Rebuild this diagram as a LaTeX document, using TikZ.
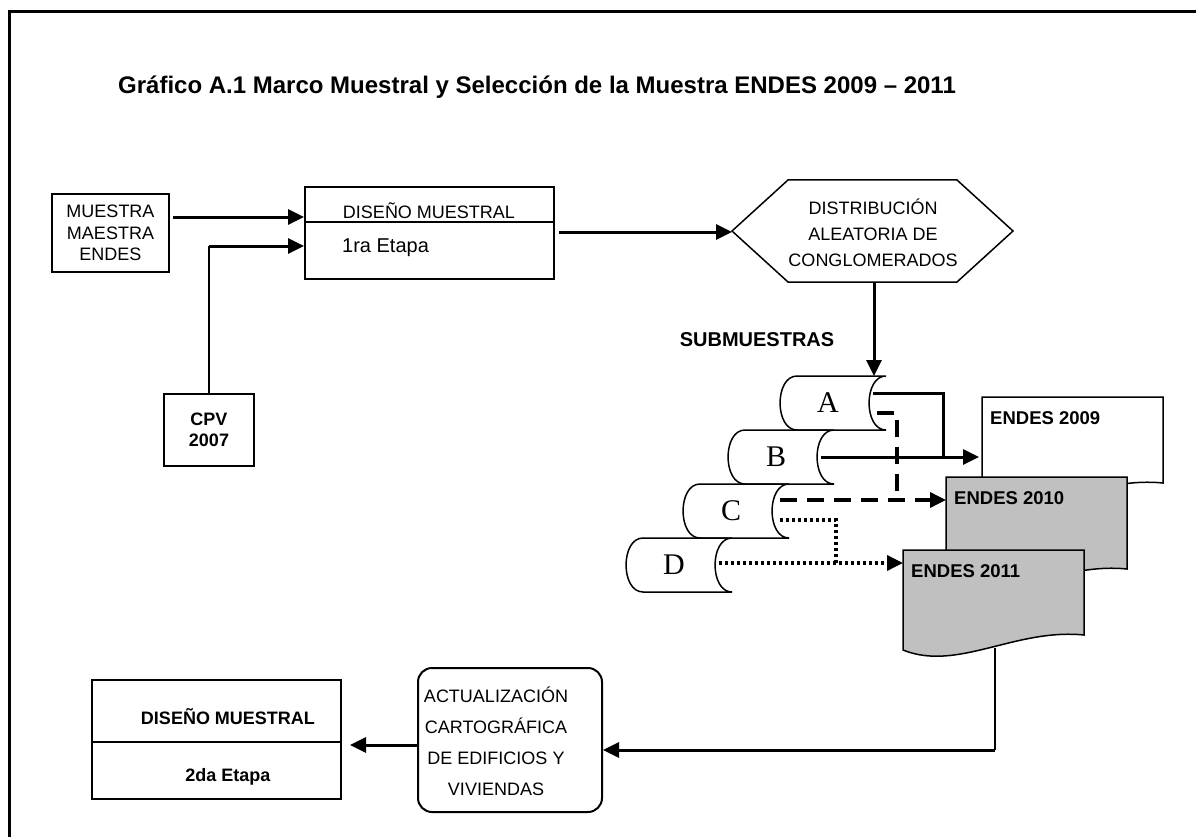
\documentclass[tikz,border=0pt]{standalone}
\usepackage{fontspec}
\setmainfont{Liberation Sans}
\newfontfamily\lserif{Liberation Serif}
\usetikzlibrary{arrows.meta,calc}
\definecolor{docgray}{RGB}{192,192,192}
\newcommand\myscroll[4]{%
  \draw[shapeline, fill=white] (#1+17,#2) -- (#1+106,#2)
     .. controls (#1+83.4,#2) and (#1+83.4,#2+54) .. (#1+106,#2+54)
     -- (#1+17,#2+54)
     .. controls (#1-5.6,#2+54) and (#1-5.6,#2) .. (#1+17,#2) -- cycle;
  \node[font=\lserif\fontsize{30}{34}\selectfont, inner sep=0pt] (#4) at (#1+48,#2+27) {#3};
  \coordinate (#4T) at (#1,#2);
  \coordinate (#4R) at (#1+93,#2+27);
}
\newcommand\mydoc[6]{%
  \draw[shapeline, fill=#4] (#1,#2) -- (#1+181,#2) -- (#1+181,#2+#3-15)
     .. controls (#1+112,#2+#3-22) and (#1+54,#2+#3+22) .. (#1,#2+#3) -- cycle;
  \node[anchor=west, inner sep=0pt, font=\bfseries\fontsize{18.5}{21}\selectfont] (#6) at (#1+8,#2+21) {#5};
  \coordinate (#6L) at (#1,#2);
}
\begin{document}
\begin{tikzpicture}[x=1pt,y=-1pt,
  box/.style={draw, line width=2pt, fill=white, inner sep=0pt},
  conn/.style={line width=3pt},
  tip/.style={-{Triangle[length=16pt,width=15pt]}},
  arr/.style={conn, tip},
  thinc/.style={line width=2pt},
  dashc/.style={line width=3.5pt, dash pattern=on 17pt off 10pt},
  dotc/.style={line width=3.5pt, dash pattern=on 3pt off 3pt},
  shapeline/.style={line width=1.5pt},
  f18/.style={font=\fontsize{18}{21.5}\selectfont, inner sep=0pt},
  b18/.style={font=\bfseries\fontsize{18}{21}\selectfont, inner sep=0pt}]
\useasboundingbox (0,0) rectangle (1196,837);
\fill[white] (0,0) rectangle (1196,837);
% frame
\draw[line width=3pt] (9,837) -- (9,12) -- (1196,12);
% title
\node[anchor=west, inner sep=0pt, font=\bfseries\fontsize{24}{28}\selectfont] (title) at (118,87)
  {Gráfico A.1 Marco Muestral y Selección de la Muestra ENDES 2009 – 2011};
% top row
\node[box, minimum width=117pt, minimum height=78pt, f18, align=center] (mme) at (110.5,233) {MUESTRA\\MAESTRA\\ENDES};
\node[box, minimum width=249pt, minimum height=92pt] (d1) at (429.5,233) {};
\draw[line width=2pt] ([yshift=11pt]d1.west) -- ([yshift=11pt]d1.east);
\node[f18] (d1a) at (429,211) {DISEÑO MUESTRAL};
\node[font=\fontsize{20}{24}\selectfont, inner sep=0pt, anchor=west] (d1b) at (342,248) {1ra Etapa};
\node[box, minimum width=90pt, minimum height=72pt, align=center, b18] (cpv) at (209,430) {CPV\\2007};
% hexagon
\draw[shapeline, fill=white] (732,231) -- (788,180) -- (957,180) -- (1013,231) -- (957,282) -- (788,282) -- cycle;
\node[align=center, font=\fontsize{18}{26}\selectfont, inner sep=0pt] (hex) at (873,233) {DISTRIBUCIÓN\\ALEATORIA DE\\CONGLOMERADOS};
\coordinate (hexW) at (732,231);
\coordinate (hexS) at (874,282);
% connectors top
\coordinate (p1) at ([yshift=16pt]mme.east);
\draw[arr] ([xshift=3pt]p1) -- (p1 -| d1.west);
\coordinate (p2) at ([yshift=-13pt]d1.west);
\draw[thinc] (cpv.north) -- (cpv.north |- p2);
\draw[arr] (cpv.north |- p2) -- (p2);
\coordinate (p3) at ([yshift=1pt]d1.east);
\draw[arr] ([xshift=4pt]p3) -- (p3 -| hexW);
% submuestras
\node[font=\bfseries\fontsize{20}{24}\selectfont, inner sep=0pt] (sub) at (757,340) {SUBMUESTRAS};
% documents
\mydoc{982}{397}{101}{white}{ENDES 2009}{e09}
\mydoc{946}{477}{107}{docgray}{ENDES 2010}{e10}
\mydoc{903}{550}{100}{docgray}{ENDES 2011}{e11}
\coordinate (e11B) at (995,648);
% scrolls
\myscroll{780}{376}{A}{sA}
\myscroll{728}{430}{B}{sB}
\myscroll{683}{484}{C}{sC}
\myscroll{626}{538}{D}{sD}
\draw[arr] (hexS) -- (hexS |- sAT);
% scroll connectors
\coordinate (a1) at ([yshift=10pt]sAR);
\coordinate (a2) at ([yshift=-10pt]sAR);
\coordinate (b1) at (sBR);
\coordinate (c1) at ([yshift=11pt]sCR);
\coordinate (c2) at ([yshift=-9pt]sCR);
\coordinate (dd) at ([yshift=2pt]sDR);
\coordinate (jAB) at (943,0);
\coordinate (jAC) at (897,0);
\coordinate (jCD) at (836,0);
\draw[conn] (a1) -| (jAB |- b1);
\draw[arr] (b1) -- ([xshift=-3pt]b1 -| e09L);
\draw[dashc] ([xshift=4pt]a2) -| (jAC |- c1);
\draw[dashc, tip] ([xshift=4pt]c1) -- (c1 -| e10L);
\draw[dotc] ([xshift=4pt]c2) -| (jCD |- dd);
\draw[dotc, tip] (dd) -- (dd -| e11L);
% bottom row
\node[draw, line width=2pt, rounded corners=14pt, minimum width=184pt, minimum height=144pt] (act) at (510,740) {};
\node[align=center, font=\fontsize{18}{31}\selectfont, inner sep=0pt] (acttxt) at (496,741) {ACTUALIZACIÓN\\CARTOGRÁFICA\\DE EDIFICIOS Y\\VIVIENDAS};
\node[box, minimum width=249pt, minimum height=119pt] (d2) at (216.5,739.5) {};
\draw[line width=2pt] ([yshift=-2.5pt]d2.west) -- ([yshift=-2.5pt]d2.east);
\node[b18] (d2a) at (228,717) {DISEÑO MUESTRAL};
\node[b18] (d2b) at (228,777) {2da Etapa};
\coordinate (q) at ([yshift=-10pt]act.east);
\draw[thinc] (e11B) -- (e11B |- q);
\draw[arr] (e11B |- q) -- (q);
\coordinate (q2) at ([yshift=-5pt]act.west);
\draw[arr] (q2) -- ([xshift=8pt]q2 -| d2.east);
\end{tikzpicture}
\end{document}
